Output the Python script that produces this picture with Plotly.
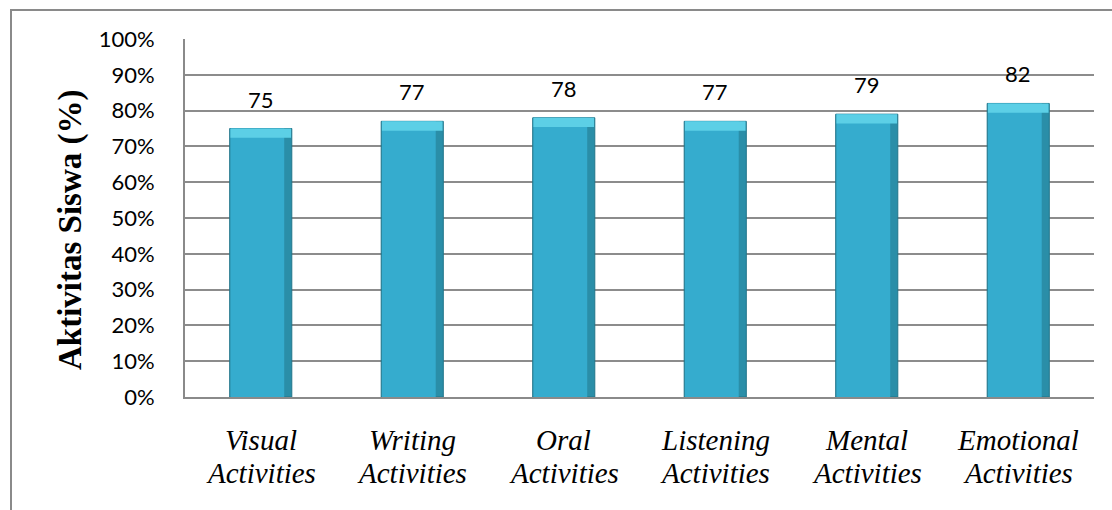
import plotly.graph_objects as go

# Student activity scores per activity type (percent)
categories = ["Visual", "Writing", "Oral", "Listening", "Mental", "Emotional"]
second_line = "Activities"
scores = [75, 77, 78, 77, 79, 82]
y_ticks = [0, 10, 20, 30, 40, 50, 60, 70, 80, 90, 100]
y_tick_labels = [f"{t}%" for t in y_ticks]

bevel = 2.6
SERIF = "Liberation Serif"

L, R, T, B = 185, 18, 39, 113
W, H = 1112 - L - R, 510 - T - B


def py_to_paper(py):
    """Convert a pixel row of the page into paper y."""
    return (510 - B - py) / H


fig = go.Figure()

# outer body of each bar (darker edges)
fig.add_trace(go.Bar(
    x=categories, y=scores, width=0.41,
    marker=dict(color="#2a8ea8", line=dict(color="#22768a", width=1)),
    hoverinfo="skip", showlegend=False,
))
# lighter core
fig.add_trace(go.Bar(
    x=categories, y=scores, width=0.355, offset=-0.2,
    marker=dict(color="#35acce", line=dict(width=0)),
    hoverinfo="skip", showlegend=False,
))
# light bevel at the top
fig.add_trace(go.Bar(
    x=categories, y=[bevel] * len(scores), base=[s - bevel for s in scores],
    width=0.40,
    marker=dict(color="#5ccfe6", line=dict(width=0)),
    hoverinfo="skip", showlegend=False,
))

# value labels above bars
for c, s in zip(categories, scores):
    fig.add_annotation(
        x=c, y=s, text=str(s), showarrow=False, yanchor="bottom", yshift=14,
        font=dict(family="Lato", size=22, color="#000000"),
    )

# two-line italic category labels
for c in categories:
    for text, row in ((c, 440), (second_line, 473)):
        fig.add_annotation(
            x=c, yref="paper", y=py_to_paper(row), text=f"<i>{text}</i>",
            showarrow=False, xanchor="center", yanchor="middle",
            font=dict(family=SERIF, size=29, color="#000000"),
        )

# y-axis title
fig.add_annotation(
    xref="paper", yref="paper", x=(70 - L) / W, y=py_to_paper(230),
    text="<b>Aktivitas Siswa (%)</b>",
    textangle=-90, showarrow=False, xanchor="center", yanchor="middle",
    font=dict(family=SERIF, size=33, color="#000000"),
)

# outer frame
fig.add_shape(
    type="rect", xref="paper", yref="paper",
    x0=(11 - L) / W, x1=(1120 - L) / W,
    y0=py_to_paper(520), y1=py_to_paper(10),
    line=dict(color="#8a8a8a", width=2), fillcolor="rgba(0,0,0,0)", layer="below",
)

fig.update_layout(
    width=1112, height=510,
    margin=dict(l=L, r=R, t=T, b=B),
    paper_bgcolor="white", plot_bgcolor="white",
    barmode="overlay", bargap=0.59,
    xaxis=dict(
        showline=True, linecolor="#8a8a8a", linewidth=2,
        showgrid=False, ticks="", showticklabels=False,
    ),
    yaxis=dict(
        range=[0, 100], tickvals=y_ticks, ticktext=y_tick_labels,
        showline=True, linecolor="#8a8a8a", linewidth=2,
        showgrid=True, gridcolor="#8c8c8c", gridwidth=1.5,
        ticks="", ticklabelstandoff=24, zeroline=False,
        tickfont=dict(family="Lato", size=22, color="#000000"),
    ),
)

fig.write_html("out.html")
